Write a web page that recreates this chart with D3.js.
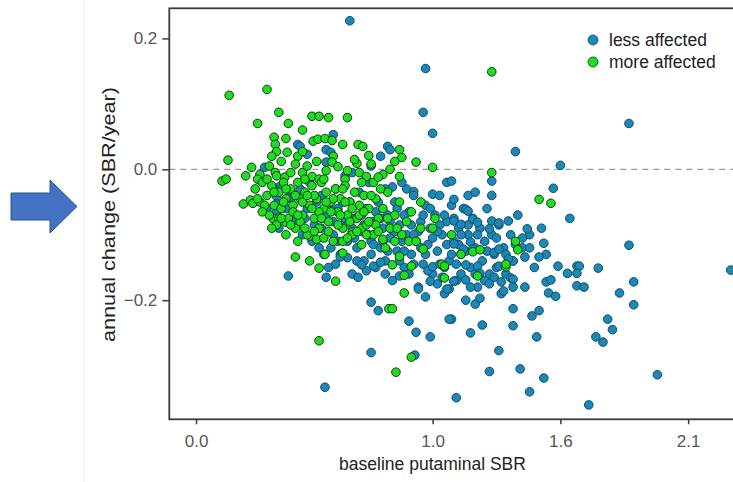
<!DOCTYPE html>
<html>
<head>
<meta charset="utf-8">
<script src="https://cdn.jsdelivr.net/npm/d3@7"></script>
<style>
  body { margin: 0; background: #fff; }
  svg { display: block; font-family: "Liberation Sans", Arial, sans-serif; }
</style>
</head>
<body>
<svg width="733" height="482"></svg>
<script>
(function() {

// values: [baseline putaminal SBR, annual change]
var lessAffected = [
  [0.65,0.227],[0.97,0.154],[0.96,0.087],[1.00,0.055],[1.83,0.070],[1.35,0.027],[1.54,0.006],
  [0.58,0.053],[0.43,0.038],[0.44,0.035],[0.47,0.023],[0.55,0.030],[0.57,0.026],[0.81,0.035],
  [0.82,0.030],[0.78,0.020],[0.74,0.005],[0.55,0.011],[0.29,0.003],[0.66,-0.005],[1.06,-0.020],
  [1.08,-0.018],[1.00,-0.038],[0.355,-0.026],[0.40,-0.034],[0.34,-0.041],[0.89,-0.030],[0.92,-0.034],
  [0.83,-0.027],[0.30,-0.060],[0.33,-0.075],[0.35,-0.090],[0.34,-0.053],[0.34,-0.066],
  [0.36,-0.03],[0.38,-0.06],[0.40,-0.045],[0.42,-0.08],[0.44,-0.03],[0.45,-0.10],[0.47,-0.06],
  [0.48,-0.02],[0.50,-0.085],[0.52,-0.12],[0.53,-0.04],[0.55,-0.07],[0.56,-0.15],[0.58,-0.10],
  [0.59,-0.03],[0.60,-0.06],[0.61,-0.13],[0.62,-0.085],[0.63,-0.01],[0.64,-0.11],[0.65,-0.05],
  [0.66,-0.16],[0.67,-0.075],[0.68,-0.12],[0.69,-0.035],[0.70,-0.095],[0.71,-0.14],[0.72,-0.06],
  [0.73,-0.02],[0.74,-0.11],[0.75,-0.08],[0.76,-0.15],[0.77,-0.05],[0.78,-0.12],[0.79,-0.09],
  [0.80,-0.03],[0.80,-0.14],[0.81,-0.07],[0.82,-0.105],[0.83,-0.17],[0.84,-0.05],[0.85,-0.125],
  [0.86,-0.085],[0.87,-0.02],[0.88,-0.15],[0.89,-0.10],[0.90,-0.065],[0.91,-0.13],[0.92,-0.04],
  [0.93,-0.11],[0.94,-0.18],[0.95,-0.08],[0.96,-0.145],[0.97,-0.055],[0.98,-0.115],[0.99,-0.09],
  [1.00,-0.16],[1.01,-0.07],[1.02,-0.125],[1.03,-0.04],[1.04,-0.10],[1.05,-0.19],[1.06,-0.08],
  [1.07,-0.14],[1.08,-0.055],[1.09,-0.11],[1.10,-0.17],[1.11,-0.09],[1.12,-0.13],[1.13,-0.06],
  [1.14,-0.20],[1.15,-0.10],[1.16,-0.15],[1.17,-0.075],[1.18,-0.12],[1.19,-0.18],[1.20,-0.09],
  [1.21,-0.14],[1.22,-0.11],[1.23,-0.06],[1.24,-0.16],[1.25,-0.10],[1.26,-0.13],[1.28,-0.085],
  [1.29,-0.19],[1.30,-0.12],[1.31,-0.16],[1.33,-0.10],[1.34,-0.14],[1.36,-0.07],[1.38,-0.12],
  [1.39,-0.18],[1.41,-0.10],[1.43,-0.15],[1.46,-0.09],[1.48,-0.13],
  [0.62,-0.05],[0.66,-0.09],[0.70,-0.07],[0.73,-0.10],[0.76,-0.065],[0.79,-0.11],[0.82,-0.08],
  [0.84,-0.095],[0.87,-0.11],[0.88,-0.07],[0.91,-0.085],[0.94,-0.095],[0.96,-0.07],[1.00,-0.105],
  [1.03,-0.085],[1.06,-0.115],[1.09,-0.075],[1.12,-0.10],[0.68,-0.14],[0.74,-0.13],[0.86,-0.14],
  [0.97,-0.13],[1.05,-0.15],[1.14,-0.125],[0.57,-0.12],[0.64,-0.135],[0.90,-0.16],[1.02,-0.175],
  [1.10,-0.145],[1.18,-0.16],[1.22,-0.17],[1.27,-0.15],
  [0.53,-0.09],[0.57,-0.06],[0.60,-0.11],[0.63,-0.075],[0.67,-0.105],[0.71,-0.085],[0.75,-0.115],
  [0.78,-0.075],[0.81,-0.125],[0.85,-0.06],[0.88,-0.125],[0.92,-0.10],[0.95,-0.12],[0.99,-0.06],
  [1.02,-0.095],[1.05,-0.07],[1.08,-0.13],[1.11,-0.115],[1.15,-0.085],[1.19,-0.10],[1.23,-0.125],
  [1.27,-0.105],[1.31,-0.13],[1.35,-0.115],[0.72,-0.155],[0.80,-0.16],[0.92,-0.145],[0.98,-0.155],
  [1.04,-0.165],[1.12,-0.16],[1.16,-0.18],[1.26,-0.165],[0.46,-0.075],[0.49,-0.11],[0.51,-0.05],
  [0.54,-0.13],[0.58,-0.08],
  [1.25,-0.018],[1.25,-0.040],[1.15,-0.040],[1.18,-0.035],[1.09,-0.046],[1.14,-0.061],[1.15,-0.064],
  [1.09,-0.079],[1.12,-0.084],[1.17,-0.076],[1.19,-0.081],[1.25,-0.079],[1.28,-0.082],[1.32,-0.079],
  [1.24,-0.091],[1.40,-0.091],[1.38,-0.105],[1.47,-0.113],[1.41,-0.120],[1.45,-0.134],[1.39,-0.134],
  [1.34,-0.140],[1.32,-0.137],[1.26,-0.127],[1.28,-0.122],[1.16,-0.111],[1.17,-0.122],[1.13,-0.122],
  [1.09,-0.114],[1.14,-0.146],[1.19,-0.148],[1.20,-0.159],[1.28,-0.148],[1.33,-0.166],[1.34,-0.168],
  [1.29,-0.172],[1.30,-0.186],[1.34,-0.180],[1.24,-0.175],[1.14,-0.169],[1.09,-0.171],[1.07,-0.183],
  [1.08,-0.229],[1.51,-0.029],[1.58,-0.075],[1.83,-0.116],[2.26,-0.154],[1.85,-0.172],[1.79,-0.189],
  [1.85,-0.207],[1.70,-0.151],[1.61,-0.148],[1.62,-0.148],[1.57,-0.159],[1.61,-0.159],[1.53,-0.148],
  [1.61,-0.178],[1.64,-0.180],[1.48,-0.172],[1.50,-0.169],[1.49,-0.189],[1.52,-0.194],[1.74,-0.229],
  [1.76,-0.245],[1.69,-0.256],[1.72,-0.264],[1.95,-0.314],[1.66,-0.360],[1.41,-0.340],[1.47,-0.319],
  [1.37,-0.305],[1.24,-0.309],[1.28,-0.277],[1.44,-0.256],[1.42,-0.224],[1.45,-0.216],[1.34,-0.213],
  [1.34,-0.239],[1.21,-0.238],[1.16,-0.250],[1.10,-0.349],[1.18,-0.206],[1.20,-0.197],
  [0.39,-0.163],[0.545,-0.333],[0.74,-0.280],[0.74,-0.203],[0.77,-0.216],[0.90,-0.232],[0.93,-0.249],
  [0.99,-0.256],[0.925,-0.284],[1.07,-0.229],[0.55,-0.165],[0.685,-0.165],[0.59,-0.145],
  [0.61,-0.134],[0.70,-0.146],[0.75,-0.148],[0.78,-0.142],[0.86,-0.163],[0.94,-0.183],[0.97,-0.195],
  [0.99,-0.171],[1.06,-0.183],[1.09,-0.171],[1.00,-0.149],[1.03,-0.145]
];

var moreAffected = [
  [0.14,0.113],[0.30,0.122],[0.35,0.087],[0.26,0.070],[0.39,0.070],[0.45,0.060],[0.49,0.081],
  [0.52,0.081],[0.56,0.079],[0.64,0.079],[0.135,0.014],[0.11,-0.018],[0.127,-0.015],[1.25,0.149],
  [1.25,-0.005],[0.93,0.011],[1.00,0.003],[1.45,-0.046],[1.50,-0.052],[1.35,-0.110],[1.36,-0.123],
  [1.31,-0.149],[1.31,-0.145],[1.17,-0.126],[1.20,-0.123],[1.19,-0.163],[0.52,-0.262],[0.845,-0.310],
  [0.91,-0.287],[0.815,-0.213],[0.83,-0.213],[0.88,-0.189],[0.59,-0.171],[0.52,-0.151],[0.48,-0.140],
  [0.42,-0.134],[0.545,-0.130],[0.62,-0.128],[0.43,-0.110],[0.48,-0.102],[0.51,-0.107],[0.54,-0.105],
  [0.325,-0.075],[0.35,-0.075],[0.20,-0.053],[0.23,-0.047],[0.24,-0.052],[0.38,-0.081],
  [0.83,-0.146],[0.88,-0.162],[0.91,-0.148],[1.04,-0.145],[1.05,-0.148],[1.05,-0.166],[0.96,-0.122],
  [0.90,-0.110],[0.86,-0.133],[0.62,-0.110],[0.66,-0.096],[0.70,-0.090],[0.79,-0.107],[1.01,-0.075],
  [1.00,-0.090],[0.95,-0.090],[1.08,-0.100],[1.12,-0.130],
  [0.33,0.049],[0.38,0.047],[0.335,0.038],[0.34,0.027],[0.385,0.026],[0.32,0.020],[0.495,0.043],
  [0.515,0.046],[0.545,0.047],[0.575,0.044],[0.62,0.038],[0.685,0.038],[0.705,0.035],[0.73,0.021],
  [0.86,0.030],[0.87,0.018],[0.84,0.012],[0.68,0.009],[0.43,0.020],[0.45,0.027],[0.58,0.020],
  [0.575,0.011],[0.42,0.008],[0.235,0.003],[0.27,-0.008],[0.21,-0.010],[0.26,-0.015],[0.335,-0.005],
  [0.375,-0.012],[0.45,-0.005],[0.49,-0.011],[0.52,-0.015],[0.63,-0.015],[0.69,-0.005],[0.72,-0.011],
  [0.79,-0.008],[0.86,-0.011],[0.75,-0.020],
  [0.25,-0.03],[0.27,-0.05],[0.28,-0.02],[0.30,-0.04],[0.31,-0.07],[0.32,-0.025],[0.33,-0.055],
  [0.34,-0.085],[0.35,-0.035],[0.36,-0.06],[0.37,-0.02],[0.38,-0.045],[0.39,-0.075],[0.40,-0.03],
  [0.41,-0.055],[0.42,-0.09],[0.43,-0.02],[0.44,-0.045],[0.45,-0.07],[0.46,-0.035],[0.47,-0.10],
  [0.48,-0.055],[0.49,-0.025],[0.50,-0.075],[0.51,-0.045],[0.52,-0.09],[0.53,-0.02],[0.54,-0.06],
  [0.55,-0.035],[0.56,-0.08],[0.57,-0.05],[0.58,-0.11],[0.59,-0.03],[0.60,-0.065],[0.61,-0.045],
  [0.62,-0.09],[0.63,-0.025],[0.64,-0.07],[0.65,-0.05],[0.66,-0.10],[0.67,-0.035],[0.68,-0.075],
  [0.69,-0.055],[0.70,-0.115],[0.71,-0.04],[0.72,-0.085],[0.73,-0.06],[0.75,-0.10],[0.76,-0.045],
  [0.77,-0.075],[0.79,-0.06],[0.80,-0.12],[0.81,-0.035],[0.82,-0.09],[0.84,-0.07],[0.86,-0.05],
  [0.87,-0.10],[0.89,-0.08],[0.91,-0.065],[0.93,-0.11],[0.95,-0.05],[0.30,-0.015],[0.34,-0.01],
  [0.38,-0.03],[0.42,-0.04],[0.46,-0.015],[0.50,-0.04],[0.54,-0.015],[0.58,-0.045],[0.62,-0.03],
  [0.66,-0.06],[0.70,-0.02],[0.74,-0.04],[0.78,-0.03],[0.36,-0.075],[0.44,-0.08],[0.52,-0.065],
  [0.60,-0.085],[0.68,-0.095],[0.76,-0.085],[0.84,-0.11],
  [0.31,0.005],[0.36,0.012],[0.40,-0.005],[0.47,0.005],[0.51,0.012],[0.55,-0.002],[0.60,0.004],
  [0.64,-0.002],[0.67,0.015],[0.74,0.008],[0.77,-0.012],[0.82,0.000],[0.29,-0.055],[0.33,-0.035],
  [0.37,-0.05],[0.41,-0.065],[0.45,-0.05],[0.49,-0.06],[0.53,-0.075],[0.57,-0.065],[0.61,-0.07],
  [0.65,-0.08],[0.69,-0.07],[0.73,-0.08],[0.77,-0.095],[0.81,-0.075],[0.85,-0.09],[0.40,-0.085],
  [0.46,-0.09],[0.50,-0.095],[0.56,-0.095],[0.64,-0.105],[0.72,-0.10],[0.26,-0.045],[0.28,-0.065],
  [0.32,-0.09],[0.38,-0.10],[0.43,-0.07],[0.47,-0.04],[0.55,-0.05],[0.63,-0.05],[0.71,-0.065]
];

var series = [
  {name: "less affected", values: lessAffected},
  {name: "more affected", values: moreAffected}
];

var xTicks = [0, 1.0, 1.54, 2.08],
    xTickLabels = ["0.0", "1.0", "1.6", "2.1"],
    yTicks = [-0.2, 0.0, 0.2];

var fill = {"less affected": "#1b88b6", "more affected": "#1fde22"},
    edge = {"less affected": "#0c4d6b", "more affected": "#0a3f0a"};

var svg = d3.select("svg");

var x = d3.scaleLinear().domain([-0.113, 2.35]).range([169.3, 752]);
var y = d3.scaleLinear().domain([-0.382, 0.246]).range([419.3, 8.3]);

// faint edge of the pasted figure
svg.append("line")
    .attr("x1", 83.5).attr("x2", 83.5).attr("y1", 0).attr("y2", 482)
    .attr("stroke", "#efefef");

// blue arrow on the left
svg.append("path")
    .attr("d", "M11,193 L50,193 L50,180 L77,206.5 L50,233 L50,220 L11,220 Z")
    .attr("fill", "#4472c4")
    .attr("stroke", "#2f528f")
    .attr("stroke-width", 1);

// zero reference line
svg.append("line")
    .attr("x1", x.range()[0]).attr("x2", x.range()[1])
    .attr("y1", y(0)).attr("y2", y(0))
    .attr("stroke", "#9a9a9a")
    .attr("stroke-width", 1.3)
    .attr("stroke-dasharray", "6,5");

var dots = svg.append("g").attr("class", "dots");

series.forEach(function(s) {
    dots.append("g")
        .selectAll("circle")
        .data(s.values)
        .enter()
        .append("circle")
        .attr("cx", function(d) { return x(d[0]); })
        .attr("cy", function(d) { return y(d[1]); })
        .attr("r", 4.3)
        .attr("fill", fill[s.name])
        .attr("stroke", edge[s.name])
        .attr("stroke-width", 1);
});

// panel border
svg.append("rect")
    .attr("x", x.range()[0]).attr("y", y.range()[1])
    .attr("width", x.range()[1] - x.range()[0])
    .attr("height", y.range()[0] - y.range()[1])
    .attr("fill", "none")
    .attr("stroke", "#3a3a3a")
    .attr("stroke-width", 1.8);

var xAxis = svg.append("g")
    .attr("transform", "translate(0," + y.range()[0] + ")")
    .call(d3.axisBottom(x).tickValues(xTicks)
        .tickFormat(function(d, i) { return xTickLabels[i]; })
        .tickSize(5).tickPadding(11));

var yAxis = svg.append("g")
    .attr("transform", "translate(" + x.range()[0] + ",0)")
    .call(d3.axisLeft(y).tickValues(yTicks)
        .tickFormat(d3.format(".1f"))
        .tickSize(7).tickPadding(5));

[xAxis, yAxis].forEach(function(g) {
    g.select(".domain").remove();
    g.selectAll(".tick line").attr("stroke", "#3a3a3a").attr("stroke-width", 1.5);
    g.selectAll(".tick text")
        .attr("fill", "#555")
        .style("font-size", "17px")
        .style("font-family", "'Liberation Sans', Arial, sans-serif");
});

svg.append("text")
    .attr("x", 432.5).attr("y", 470)
    .attr("text-anchor", "middle")
    .attr("fill", "#222")
    .style("font-size", "17.5px")
    .text("baseline putaminal SBR");

svg.append("text")
    .attr("transform", "translate(115,214.5) rotate(-90)")
    .attr("text-anchor", "middle")
    .attr("fill", "#222")
    .attr("textLength", 255)
    .attr("lengthAdjust", "spacingAndGlyphs")
    .style("font-size", "18px")
    .text("annual change (SBR/year)");

// legend
var legend = svg.append("g").attr("transform", "translate(593,40)");
var item = legend.selectAll("g")
    .data(series)
    .enter()
    .append("g")
    .attr("transform", function(d, i) { return "translate(0," + i * 22 + ")"; });

item.append("circle")
    .attr("r", 5)
    .attr("fill", function(d) { return fill[d.name]; })
    .attr("stroke", function(d) { return edge[d.name]; })
    .attr("stroke-width", 0.8);

item.append("text")
    .attr("x", 16).attr("dy", "0.35em")
    .attr("fill", "#222")
    .style("font-size", "17.5px")
    .text(function(d) { return d.name; });

})();
</script>
</body>
</html>
